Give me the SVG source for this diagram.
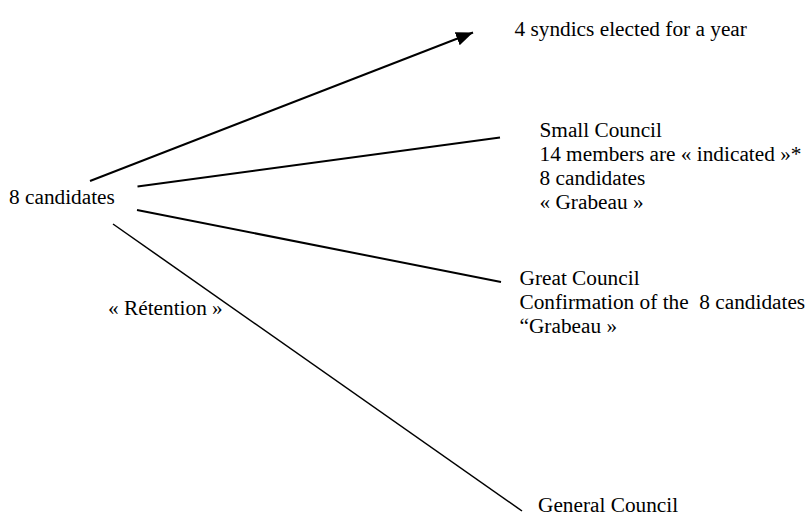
<svg xmlns="http://www.w3.org/2000/svg" width="807" height="516" viewBox="0 0 807 516">
<style>
.c{stroke:#000;stroke-width:2;fill:none}
.t{stroke-width:1.5}
</style>
<defs>
<marker id="ah" markerUnits="userSpaceOnUse" markerWidth="20" markerHeight="16" refX="17" refY="7" orient="auto">
<path d="M0,0 L17,7 L0,14 z" fill="#000"/>
</marker>
</defs>
<rect width="807" height="516" fill="#fff"/>
<g id="connectors">
<line class="c" x1="90" y1="181" x2="473" y2="32.5" marker-end="url(#ah)"/>
<line class="c" x1="137.5" y1="186.5" x2="500" y2="137.5"/>
<line class="c" x1="137" y1="210" x2="501" y2="282"/>
<line class="c t" x1="113" y1="224" x2="522" y2="511"/>
</g>
<g font-family="Liberation Serif, DejaVu Serif, serif" font-size="21.3" fill="#000">
<g id="n-source"><text x="9" y="203.5">8 candidates</text></g>
<g id="n-syndics"><text x="514.5" y="36">4 syndics elected for a year</text></g>
<g id="n-small">
<text x="539.5" y="137">Small Council</text>
<text x="539.5" y="161">14 members are « indicated »*</text>
<text x="539.5" y="185">8 candidates</text>
<text x="539.5" y="208.5">« Grabeau »</text>
</g>
<g id="n-great">
<text x="519.5" y="285">Great Council</text>
<text x="519.5" y="309" xml:space="preserve">Confirmation of the  8 candidates</text>
<text x="519.5" y="332.5">“Grabeau »</text>
</g>
<g id="n-retention"><text x="108" y="315">« Rétention »</text></g>
<g id="n-general"><text x="538" y="512">General Council</text></g>
</g>
</svg>
